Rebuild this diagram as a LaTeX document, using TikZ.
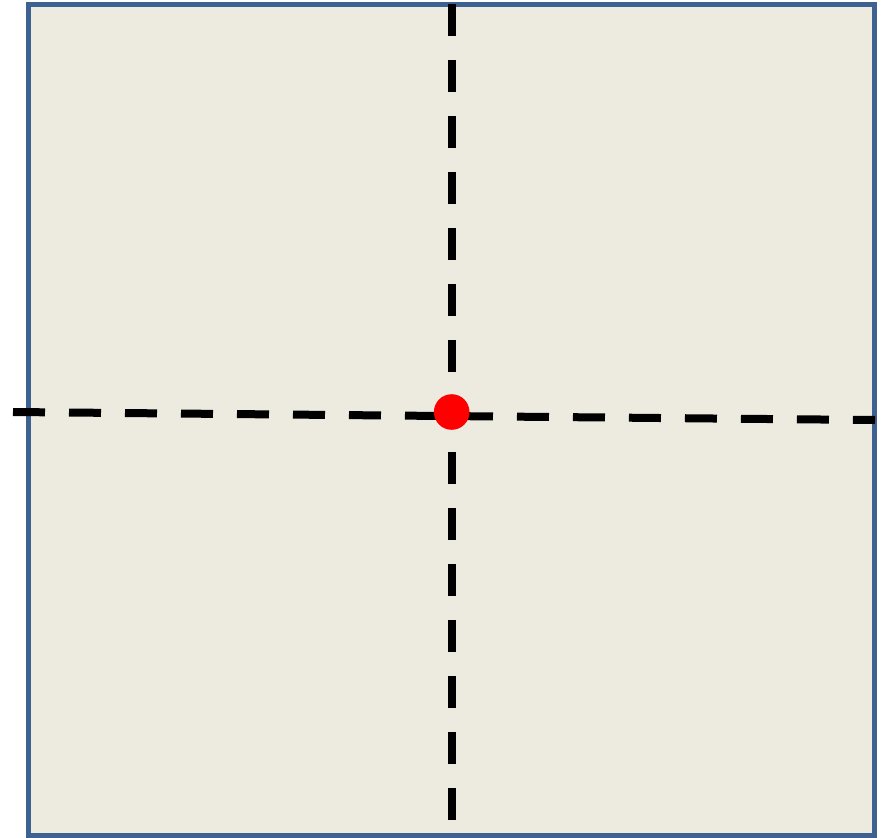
\documentclass[tikz,border=0pt]{standalone}
\definecolor{paper}{HTML}{EDEBE0}
\definecolor{frame}{HTML}{3D6190}
\definecolor{dotred}{HTML}{FF0000}
\begin{document}
\begin{tikzpicture}[x=1pt,y=-1pt,
  axisline/.style={line width=8pt,dash pattern=on 32pt off 24pt,black},
  framebox/.style={fill=paper,draw=frame,line width=5pt}]
\useasboundingbox (0,0) rectangle (887,838);
\draw[framebox] (28,4.5) rectangle (874.5,835.5);
\coordinate (vtop) at (451.7,4);
\coordinate (vbot) at (451.7,820);
\coordinate (hleft) at (13,412);
\coordinate (hright) at (875,420);
\draw[axisline] (vtop) -- (vbot);
\draw[axisline] (hleft) -- (hright);
\fill[dotred] (451.7,412) circle (17.8);
\end{tikzpicture}
\end{document}
